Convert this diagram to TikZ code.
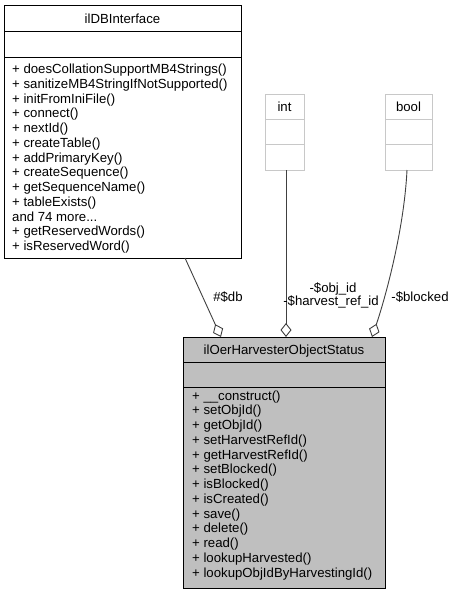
\documentclass[tikz,border=0pt]{standalone}
\usepackage{fontspec}
\setmainfont{Liberation Sans}
\usetikzlibrary{arrows.meta}
\definecolor{boxgray}{HTML}{BFBFBF}
\definecolor{lightborder}{HTML}{C8C8C8}
\definecolor{edgecol}{HTML}{404040}
\begin{document}
\begin{tikzpicture}[x=1pt,y=-1pt,
  font=\fontsize{13.2}{15}\selectfont,
  cls/.style={draw=black, line width=1pt, inner sep=0pt, outer sep=0pt, anchor=north west},
  lcls/.style={draw=lightborder, line width=1pt, inner sep=0pt, outer sep=0pt, anchor=north west},
  sep/.style={draw=black, line width=1pt},
  lsep/.style={draw=lightborder, line width=1pt},
  txt/.style={inner sep=0pt, anchor=base west},
  ttl/.style={inner sep=0pt, anchor=base},
  lbl/.style={inner sep=0pt, anchor=base},
  agg/.style={draw=edgecol, line width=0.9pt, {Diamond[open,length=14pt,width=11pt]}-}
]
\useasboundingbox (0,0) rectangle (454,595);
% ilDBInterface
\node[cls, fill=white, minimum width=237pt, minimum height=253pt] (db) at (4,5) {};
\draw[sep] (4,31) -- (241,31);
\draw[sep] (4,57) -- (241,57);
\node[ttl] (dbt) at (122.5,23) {ilDBInterface};
\foreach \t [count=\i from 0] in {%
  {+ doesCollationSupportMB4Strings()},
  {+ sanitizeMB4StringIfNotSupported()},
  {+ initFromIniFile()},
  {+ connect()},
  {+ nextId()},
  {+ createTable()},
  {+ addPrimaryKey()},
  {+ createSequence()},
  {+ getSequenceName()},
  {+ tableExists()},
  {and 74 more.{}.{}.},
  {+ getReservedWords()},
  {+ isReservedWord()}}
  \node[txt] (dbm\i) at (12,73.5+14.75*\i) {\t};
% int
\node[lcls, minimum width=39pt, minimum height=76pt] (int) at (265,94) {};
\draw[lsep] (265,119) -- (304,119);
\draw[lsep] (265,144) -- (304,144);
\node[ttl] (intt) at (284.5,111) {int};
% bool
\node[lcls, minimum width=47pt, minimum height=76pt] (bool) at (385,94) {};
\draw[lsep] (385,119) -- (432,119);
\draw[lsep] (385,144) -- (432,144);
\node[ttl] (boolt) at (408.5,111) {bool};
% main class
\node[cls, fill=boxgray, minimum width=202pt, minimum height=251pt] (main) at (183,337) {};
\draw[sep] (183,362) -- (385,362);
\draw[sep] (183,387) -- (385,387);
\node[ttl] (maint) at (284,354) {ilOerHarvesterObjectStatus};
\foreach \t [count=\i from 0] in {%
  {+ \_\_construct()},
  {+ setObjId()},
  {+ getObjId()},
  {+ setHarvestRefId()},
  {+ getHarvestRefId()},
  {+ setBlocked()},
  {+ isBlocked()},
  {+ isCreated()},
  {+ save()},
  {+ delete()},
  {+ read()},
  {+ lookupHarvested()},
  {+ lookupObjIdByHarvestingId()}}
  \node[txt] (mm\i) at (192,400+14.75*\i) {\t};
% connectors
\coordinate (dbEnd) at (221,337);
\coordinate (intEnd) at (286,337);
\coordinate (boolEnd) at (372,337);
\draw[agg] (dbEnd) -- (db.south -| 185,0);
\draw[agg] (intEnd) -- (int.south -| 286,0);
\draw[agg] (boolEnd) .. controls (384,302) and (404,232) .. (bool.south -| 407,0);
% labels
\node[lbl] (ldb) at (228,301) {\#\$db};
\node[lbl] (lobj) at (333,292) {-\$obj\_id};
\node[lbl] (lharv) at (331,305) {-\$harvest\_ref\_id};
\node[lbl] (lblk) at (420,301) {-\$blocked};
\end{tikzpicture}
\end{document}
